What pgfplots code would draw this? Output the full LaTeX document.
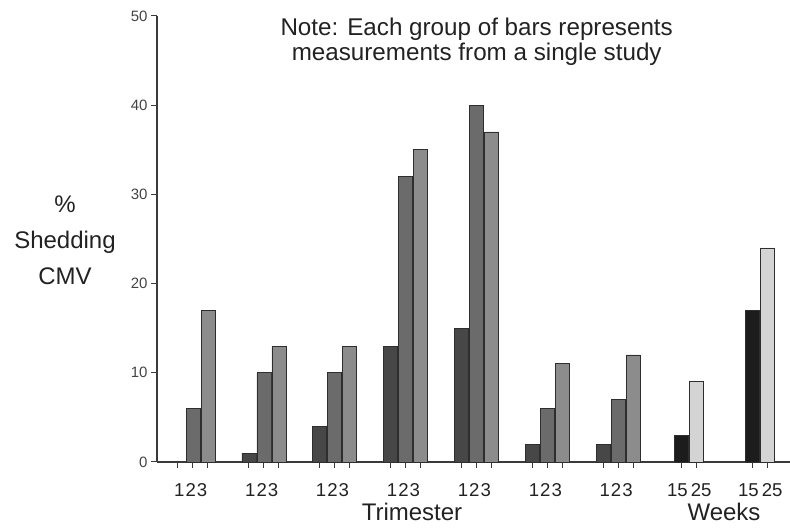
\documentclass[border=0pt]{standalone}
\usepackage{pgfplots}
\pgfplotsset{compat=1.18}
\usepackage{fontspec}
\setmainfont{Liberation Sans}
\definecolor{tA}{HTML}{474747}
\definecolor{tB}{HTML}{6B6B6B}
\definecolor{tC}{HTML}{8C8C8C}
\definecolor{wA}{HTML}{1C1C1C}
\definecolor{wB}{HTML}{D4D4D4}
\definecolor{edge}{HTML}{2E2E2E}
\definecolor{axisc}{HTML}{3A3A3A}
\definecolor{labc}{HTML}{444444}
\definecolor{txt}{HTML}{222222}
\begin{document}
\begin{tikzpicture}[x=1pt,y=1pt]
\path[use as bounding box] (-157,-67) rectangle (633,462);
\begin{axis}[
  at={(0,0)}, anchor=south west, scale only axis,
  width=633pt, height=446pt,
  xmin=-2.4, xmax=39.8, ymin=0, ymax=50,
  axis x line=bottom, axis y line=left,
  axis line style={-, line width=1.4pt, color=axisc},
  ytick={0,10,20,30,40,50},
  yticklabel style={font=\fontsize{15}{18}\selectfont, text=labc},
  /pgf/number format/assume math mode=true,
  xtick={-1,0,1,3.727,4.727,5.727,8.455,9.455,10.455,13.18,14.18,15.18,17.91,18.91,19.91,22.64,23.64,24.64,27.36,28.36,29.36,32.59,33.59,37.32,38.32},
  xticklabel=\empty,
  tick align=outside, major tick length=6pt,
  tick style={line width=1pt, color=axisc},
  extra x ticks={-0.15,4.58,9.3,14.03,18.76,23.49,28.21,33.09,37.82},
  extra x tick labels={1\kern1pt2\kern1pt3,1\kern1pt2\kern1pt3,1\kern1pt2\kern1pt3,1\kern1pt2\kern1pt3,1\kern1pt2\kern1pt3,1\kern1pt2\kern1pt3,1\kern1pt2\kern1pt3,15\,25,15\,25},
  extra x tick style={major tick length=0pt,
     xticklabel style={font=\fontsize{18.6}{22}\selectfont, text=txt, anchor=base, yshift=-35pt}},
  ybar, bar width=0.933,
  clip=false,
]
\addplot[bar shift=0pt, fill=tA, draw=edge, line width=0.8pt] coordinates {(3.727,1) (8.455,4) (13.18,13) (17.91,15) (22.64,2) (27.36,2)};
\addplot[bar shift=0pt, fill=tB, draw=edge, line width=0.8pt] coordinates {(0,6) (4.727,10) (9.455,10) (14.18,32) (18.91,40) (23.64,6) (28.36,7)};
\addplot[bar shift=0pt, fill=tC, draw=edge, line width=0.8pt] coordinates {(1,17) (5.727,13) (10.455,13) (15.18,35) (19.91,37) (24.64,11) (29.36,12)};
\addplot[bar shift=0pt, fill=wA, draw=edge, line width=0.8pt] coordinates {(32.59,3) (37.32,17)};
\addplot[bar shift=0pt, fill=wB, draw=edge, line width=0.8pt] coordinates {(33.59,9) (38.32,24)};
\node[anchor=base, font=\fontsize{24.2}{28}\selectfont, text=txt] at ([xshift=319.7pt, yshift=426pt]rel axis cs:0,0) {Note: Each group of bars represents};
\node[anchor=base, font=\fontsize{24.2}{28}\selectfont, text=txt] at ([xshift=319.7pt, yshift=401pt]rel axis cs:0,0) {measurements from a single study};
\node[align=center, font=\fontsize{24}{36}\selectfont, text=txt] at ([xshift=-92pt, yshift=222pt]rel axis cs:0,0) {\%\\Shedding\\CMV};
\node[anchor=base, font=\fontsize{24}{28}\selectfont, text=txt] at ([xshift=255pt, yshift=-59pt]rel axis cs:0,0) {Trimester};
\node[anchor=base, font=\fontsize{24}{28}\selectfont, text=txt] at ([xshift=567pt, yshift=-59pt]rel axis cs:0,0) {Weeks};
\end{axis}
\end{tikzpicture}
\end{document}
